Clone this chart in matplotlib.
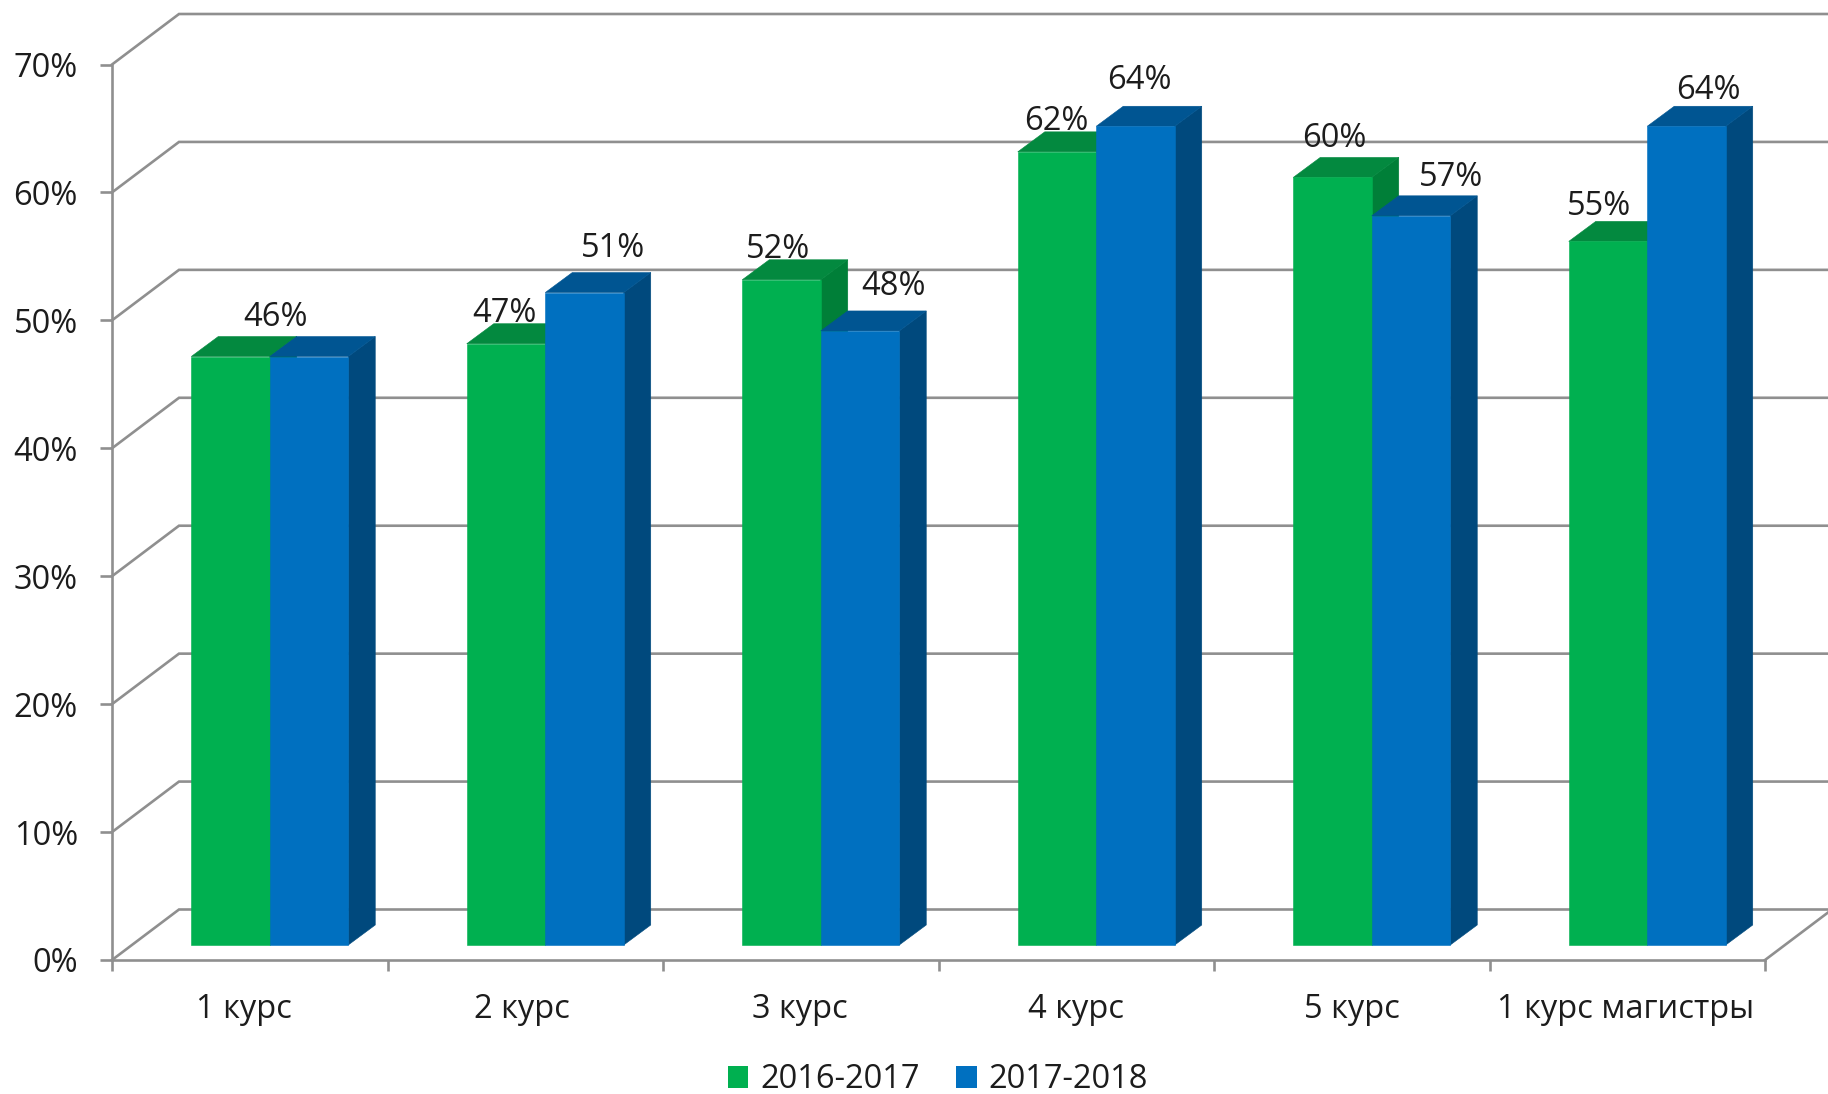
import matplotlib
matplotlib.use("Agg")
import matplotlib.pyplot as plt
from matplotlib.patches import Patch

plt.rcParams['font.family'] = ['Open Sans', 'DejaVu Sans']

categories = ['1 курс', '2 курс', '3 курс', '4 курс', '5 курс', '1 курс магистры']
series_names = ['2016-2017', '2017-2018']
values_2016 = [46, 47, 52, 62, 60, 55]
values_2017 = [46, 51, 48, 64, 57, 64]
y_ticks = [0, 10, 20, 30, 40, 50, 60, 70]

# label placement relative to the front-top centre of each bar (pixels)
label_dx_2016 = [None, -2, -3, -1, 2, -9]
label_dy_2016 = [None, 30, 30, 30, 39, 35]
label_dx_2017 = [-33, 29, 33, 4, 40, 22]
label_dy_2017 = [39, 44, 44, 46, 38, 36]
category_dx = [-6, -3.5, -1, 0, 0, -2]

W, H = 1828, 1094
AX_L, AX_R, AX_B, AX_T = 112, 1765, 960, 64.5
fig = plt.figure(figsize=(W / 100, H / 100), dpi=100, facecolor='white')
ax = fig.add_axes([AX_L / W, 1 - AX_B / H, (AX_R - AX_L) / W, (AX_B - AX_T) / H])
ax.set_xlim(0, 6)
ax.set_ylim(0, 70)
ax.patch.set_visible(False)

px_x = 6 / (AX_R - AX_L)          # data units per pixel
px_y = 70 / (AX_B - AX_T)

GRID = '#8f8f8f'
LW = 1.9
FS = 23.5
TXT = '#1c1c1c'

back_dx, back_dy = 67 * px_x, 50.5 * px_y
front_dx, front_dy = 20 * px_x, 15 * px_y
depth_dx, depth_dy = 27 * px_x, 20 * px_y
bar_w = 78.5 * px_x

# walls
for v in y_ticks:
    ax.plot([0, back_dx, 6 + back_dx], [v, v + back_dy, v + back_dy],
            color=GRID, lw=LW, clip_on=False, zorder=1, solid_joinstyle='miter')
ax.plot([6, 6 + back_dx], [0, back_dy], color=GRID, lw=LW, clip_on=False, zorder=1)


def draw_series(vals, offset, front, top, side, z):
    for i, v in enumerate(vals):
        x0 = i + 0.5 + offset * bar_w + front_dx
        x1 = x0 + bar_w
        y0 = front_dy
        y1 = v + front_dy
        ax.fill([x1, x1 + depth_dx, x1 + depth_dx, x1],
                [y0, y0 + depth_dy, y1 + depth_dy, y1],
                color=side, lw=0.4, clip_on=False, zorder=z)
        ax.fill([x0, x1, x1 + depth_dx, x0 + depth_dx],
                [y1, y1, y1 + depth_dy, y1 + depth_dy],
                color=top, lw=0.4, clip_on=False, zorder=z)
        ax.bar(x0, v, width=bar_w, bottom=y0, align='edge', color=front, lw=0.4,
               edgecolor=front, clip_on=False, zorder=z + 0.1)


GREEN, BLUE = '#00B050', '#0070C0'
draw_series(values_2016, -1, GREEN, '#03893F', '#007F38', 3)
draw_series(values_2017, 0, BLUE, '#005592', '#00497D', 4)


def draw_labels(vals, offset, dxs, dys):
    for i, v in enumerate(vals):
        if dxs[i] is None:
            continue
        xc = i + 0.5 + (offset + 0.5) * bar_w + front_dx
        ax.annotate(f'{v}%', xy=(xc, v + front_dy), xycoords='data',
                    xytext=(dxs[i] * 0.72, dys[i] * 0.72), textcoords='offset points',
                    ha='center', va='center', fontsize=FS, color=TXT,
                    annotation_clip=False, zorder=6)


draw_labels(values_2016, -1, label_dx_2016, label_dy_2016)
draw_labels(values_2017, 0, label_dx_2017, label_dy_2017)

# axes
for s in ('top', 'right'):
    ax.spines[s].set_visible(False)
for s in ('left', 'bottom'):
    ax.spines[s].set_color(GRID)
    ax.spines[s].set_linewidth(LW)
    ax.spines[s].set_zorder(2)

ax.set_yticks(y_ticks)
ax.set_yticklabels([f'{v}%' for v in y_ticks], fontsize=FS, color=TXT)
ax.tick_params(axis='y', length=8.6, width=LW, color=GRID, pad=16)

ax.set_xticks(range(7))
ax.set_xticklabels([''] * 7)
ax.tick_params(axis='x', which='major', length=8, width=LW, color=GRID)
ax.set_xticks([i + 0.5 + d * px_x for i, d in enumerate(category_dx)], minor=True)
ax.set_xticklabels(categories, minor=True, fontsize=FS, color=TXT)
ax.tick_params(axis='x', which='minor', length=0, pad=24)

# legend
handles = [Patch(facecolor=GREEN, lw=0), Patch(facecolor=BLUE, lw=0)]
fig.legend(handles, series_names, loc='center', bbox_to_anchor=(938 / W, 1 - 1080 / H),
           ncol=2, frameon=False, fontsize=FS, labelcolor=TXT, borderpad=0, borderaxespad=0,
           handlelength=0.63, handleheight=0.63, handletextpad=0.37, columnspacing=1.1)

fig.savefig('out.png', dpi=100, facecolor='white')
